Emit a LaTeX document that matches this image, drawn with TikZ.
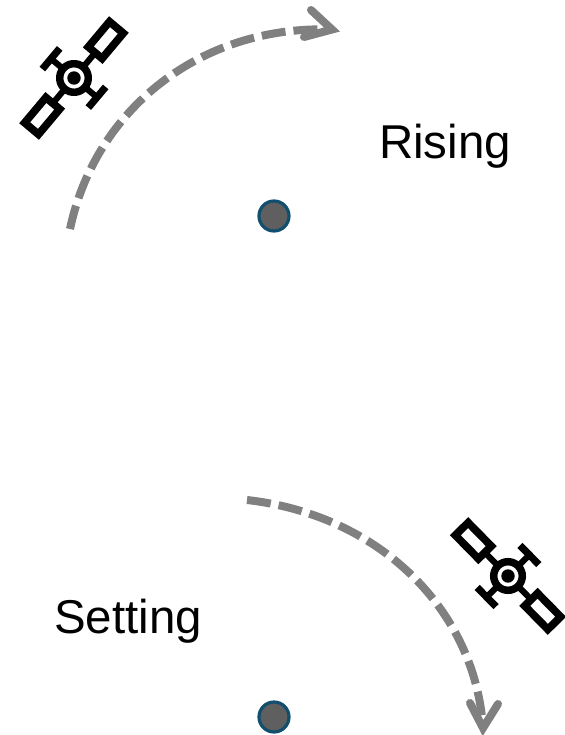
\documentclass[tikz,border=0pt]{standalone}
\usepackage{fontspec}
\setmainfont{Liberation Sans}
\definecolor{arcgray}{HTML}{808080}
\definecolor{dotfill}{HTML}{5F5F5F}
\definecolor{dotline}{HTML}{124E6E}
\tikzset{
  x=0.75pt,y=-0.75pt,
  arcline/.style={draw=arcgray,line width=6pt,dash pattern=on 18pt off 6pt},
  archead/.style={draw=arcgray,line width=6pt,line cap=round,line join=miter,miter limit=10},
  dot/.style={circle,draw=dotline,fill=dotfill,line width=2.4pt,minimum size=22.5pt,inner sep=0pt},
  label/.style={font=\fontsize{35.6pt}{40pt}\selectfont,inner sep=0pt},
  pics/satellite/.style={code={
    \foreach \s in {1,-1}{
      \draw[line width=5.8pt] (\s*33,-9) rectangle (\s*66,9);
      \draw[line width=4.6pt] (\s*13,0) -- (\s*31,0);
      \draw[line width=4.6pt] (0,\s*13) -- (0,\s*30);
      \draw[line width=5.4pt] (-13.5,\s*30) -- (13.5,\s*30);
    }
    \draw[line width=5.6pt] (0,0) circle (14.3);
    \fill (0,0) circle (6.7);
  }}
}
\begin{document}
\begin{tikzpicture}
\useasboundingbox (0,0) rectangle (564,735);
\pic at (74,78) [rotate=50] {satellite};
\pic at (508,576) [rotate=-45.5] {satellite};
\coordinate (a1) at (70,229);
\coordinate (a2) at (332,29.5);
\coordinate (ab1) at (311,10);
\coordinate (ab2) at (304,37);
\coordinate (b1) at (247,500);
\coordinate (b2) at (483,728);
\coordinate (bb1) at (470,703);
\coordinate (bb2) at (498,704);
\draw[arcline] (a1) .. controls (95,110) and (200,25) .. (a2);
\draw[archead] (ab1) -- (a2) -- (ab2);
\draw[arcline] (b1) .. controls (380,515) and (475,610) .. (b2);
\draw[archead] (bb1) -- (b2) -- (bb2);
\node[dot] (d1) at (274,216) {};
\node[dot] (d2) at (274,717) {};
\node[label] (rising) at (445,146) {Rising};
\node[label] (setting) at (128,621) {Setting};
\end{tikzpicture}
\end{document}
